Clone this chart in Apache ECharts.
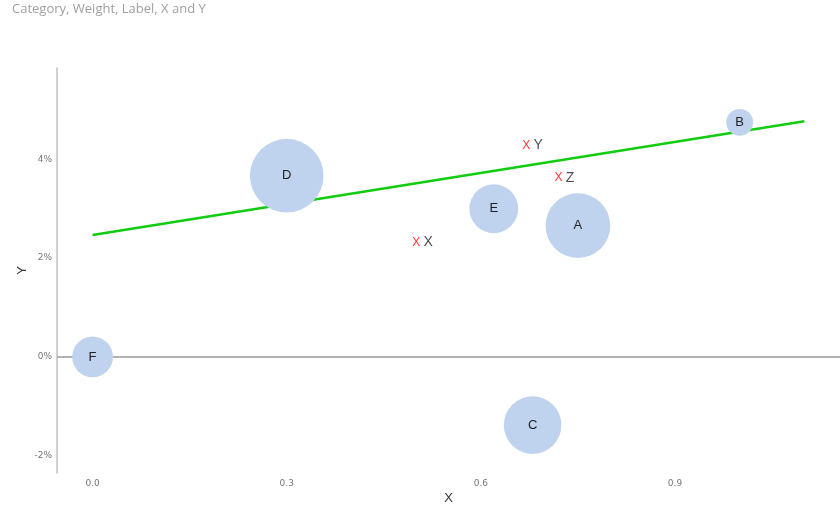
<!DOCTYPE html>
<html><head><meta charset="utf-8">
<script src="https://cdn.jsdelivr.net/npm/echarts@6/dist/echarts.min.js"></script>
<style>html,body{margin:0;padding:0;background:#fff}#c{width:840px;height:515px}</style>
</head><body><div id="c"></div>
<script>
const categories = ['A','B','C','D','E','F'];
const bubbleX = [0.75, 1.0, 0.68, 0.30, 0.62, 0.0];
const bubbleY = [2.66, 4.75, -1.38, 3.67, 3.0, 0.0];
const weights = [58, 10, 46, 75, 33, 23];
const markerLabels = ['X','Y','Z'];
const markerX = [0.50, 0.67, 0.72];
const markerY = [2.32, 4.28, 3.63];
const trendX = [0.0, 1.1];
const trendY = [2.47, 4.77];
const xTicks = [0.0, 0.3, 0.6, 0.9];
const yTicks = [-2, 0, 2, 4];

const chart = echarts.init(document.getElementById('c'));
const isTick = (arr, v) => arr.some(t => Math.abs(t - v) < 1e-6);
chart.setOption({
  animation: false,
  title: { text: 'Category, Weight, Label, X and Y', left: 7, top: -2,
    textStyle: { fontFamily: 'Open Sans', fontSize: 13, fontWeight: 'normal', color: '#a0a0a0' } },
  grid: { left: 57, right: 0, top: 68, bottom: 42, outerBoundsMode: 'none', containLabel: false },
  xAxis: { type: 'value', min: -0.055, max: 1.155, interval: 0.005,
    name: 'X', nameLocation: 'middle', nameGap: 19, nameMoveOverlap: false,
    nameTextStyle: { fontFamily: 'Liberation Sans', fontSize: 13, color: '#333' },
    axisLine: { show: false }, axisTick: { show: false }, splitLine: { show: false },
    axisLabel: { fontFamily: 'DejaVu Sans', fontSize: 9, color: '#777', margin: 6, interval: 0,
      hideOverlap: false,
      formatter: v => isTick(xTicks, v) ? v.toFixed(1) : '' } },
  yAxis: { type: 'value', min: -2.35, max: 5.85, interval: 0.05,
    name: 'Y', nameLocation: 'middle', nameGap: 28, nameRotate: 90, nameMoveOverlap: false,
    nameTextStyle: { fontFamily: 'Liberation Sans', fontSize: 13, color: '#333' },
    axisLine: { show: true, onZero: false, lineStyle: { color: '#c0c0c0', width: 1.5 } },
    axisTick: { show: false }, splitLine: { show: false },
    axisLabel: { fontFamily: 'DejaVu Sans', fontSize: 9, color: '#777', margin: 5, interval: 0,
      hideOverlap: false,
      formatter: v => isTick(yTicks, v) ? Math.round(v) + '%' : '' } },
  series: [
    { type: 'line', data: trendX.map((x, i) => [x, trendY[i]]), symbol: 'none',
      lineStyle: { color: '#11cc11', width: 2.5 }, z: 2,
      markLine: { silent: true, symbol: 'none', label: { show: false }, z: 1,
        lineStyle: { color: '#b0b0b0', width: 2, type: 'solid' },
        data: [{ yAxis: 0 }] } },
    { type: 'scatter', z: 10,
      data: categories.map((c, i) => ({ name: c, value: [bubbleX[i], bubbleY[i], weights[i]] })),
      symbolSize: d => Math.sqrt(d[2]) * 8.5,
      itemStyle: { color: '#bfd3ef', opacity: 1 },
      label: { show: true, position: 'inside', formatter: p => p.name,
        fontFamily: 'Liberation Sans', fontSize: 13, color: '#222' } },
    { type: 'scatter', z: 11,
      data: markerLabels.map((c, i) => ({ name: c, value: [markerX[i], markerY[i]] })),
      symbolSize: 0,
      label: { show: true, position: 'right', distance: -4,
        formatter: p => '{r|X} {n|' + p.name + '}',
        rich: { r: { fontFamily: 'Liberation Sans', fontSize: 12, color: '#ff0000' },
                n: { fontFamily: 'Liberation Sans', fontSize: 14, color: '#222' } } } }
  ]
});
</script></body></html>
